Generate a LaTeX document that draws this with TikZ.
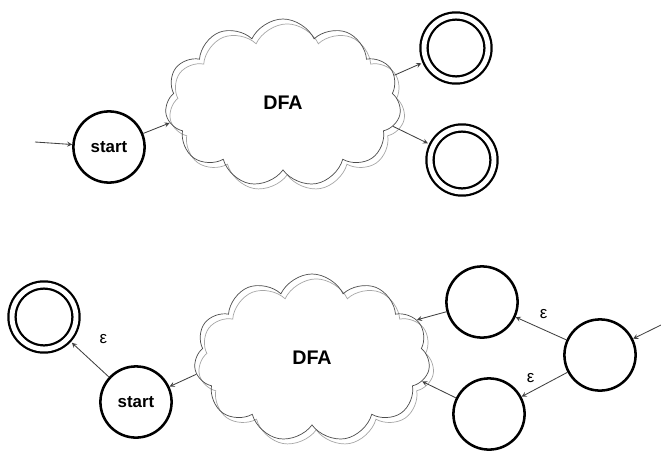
\documentclass[tikz,border=0pt]{standalone}
\usepackage{fontspec}
\setmainfont{Liberation Sans}
\usetikzlibrary{shapes.symbols, shadows, arrows, positioning}
\tikzset{
    objState/.style={circle, draw=black, line width=1.8pt, minimum size=1.78cm, inner sep=0pt, font=\fontsize{12}{14}\selectfont\bfseries},
    objAccept/.style={circle, draw=black, line width=1.6pt, double, double distance=3.5pt, minimum size=1.6cm, inner sep=0pt},
    objCloud/.style={cloud, cloud puffs=11, cloud puff arc=130, draw=black!70, line width=0.5pt, minimum width=5.9cm, minimum height=4.2cm, font=\fontsize{14}{16}\selectfont\bfseries, copy shadow={shadow xshift=3pt, shadow yshift=-3.5pt, draw=black!35, fill=none}},
    arrow/.style={line width=0.6pt, ->, >=stealth, draw=black!75},
    toAccept/.style={shorten >=3.4pt}
}
\begin{document}
\begin{tikzpicture}[node distance=1.5cm]
    \useasboundingbox (0,0) rectangle (16.525,11.275);

    \node (001) [objState] at (2.725,7.6) {start};
    \node (002) [objCloud, right of =001, xshift=2.85cm, yshift=1.1cm] {DFA};
    \node (003) [objAccept, right of =002, xshift=2.825cm, yshift=1.375cm] {};
    \node (004) [objAccept, right of =002, xshift=2.975cm, yshift=-1.425cm] {};
    \coordinate (in1) at (0.875,7.725);

    \node (005) [objState, below of=001, xshift=0.675cm, yshift=-4.875cm] {start};
    \node (006) [objAccept, left of =005, xshift=-0.8cm, yshift=2.125cm] {};
    \node (007) [objCloud, right of =005, xshift=2.9cm, yshift=1.1cm] {DFA};
    \node (008) [objState, right of =007, xshift=2.75cm, yshift=1.4cm] {};
    \node (009) [objState, right of =007, xshift=2.925cm, yshift=-1.4cm] {};
    \node (010) [objState, right of =008, xshift=1.45cm, yshift=-1.325cm] {};
    \coordinate (in2) at (16.525,3.15);

    \draw[arrow] (in1) -- (001);
    \draw[arrow] (001) -- (002.190);
    \draw[arrow, toAccept] (002.14) -- (003);
    \draw[arrow, toAccept] (002.-12) -- (004);

    \draw[arrow] (in2) -- (010);
    \draw[arrow] (010) -- node[font=\fontsize{12}{14}\selectfont, pos=0.45, above=4pt] {ε} (008);
    \draw[arrow] (010) -- node[font=\fontsize{12}{14}\selectfont, pos=0.8, above=3pt] {ε} (009);
    \draw[arrow] (008) -- (007.20);
    \draw[arrow] (009) -- (007.-12);
    \draw[arrow] (007.188) -- (005);
    \draw[arrow, toAccept] (005) -- node[font=\fontsize{12}{14}\selectfont, pos=0.7, above right=0.05cm and 0.35cm] {ε} (006);

\end{tikzpicture}
\end{document}
